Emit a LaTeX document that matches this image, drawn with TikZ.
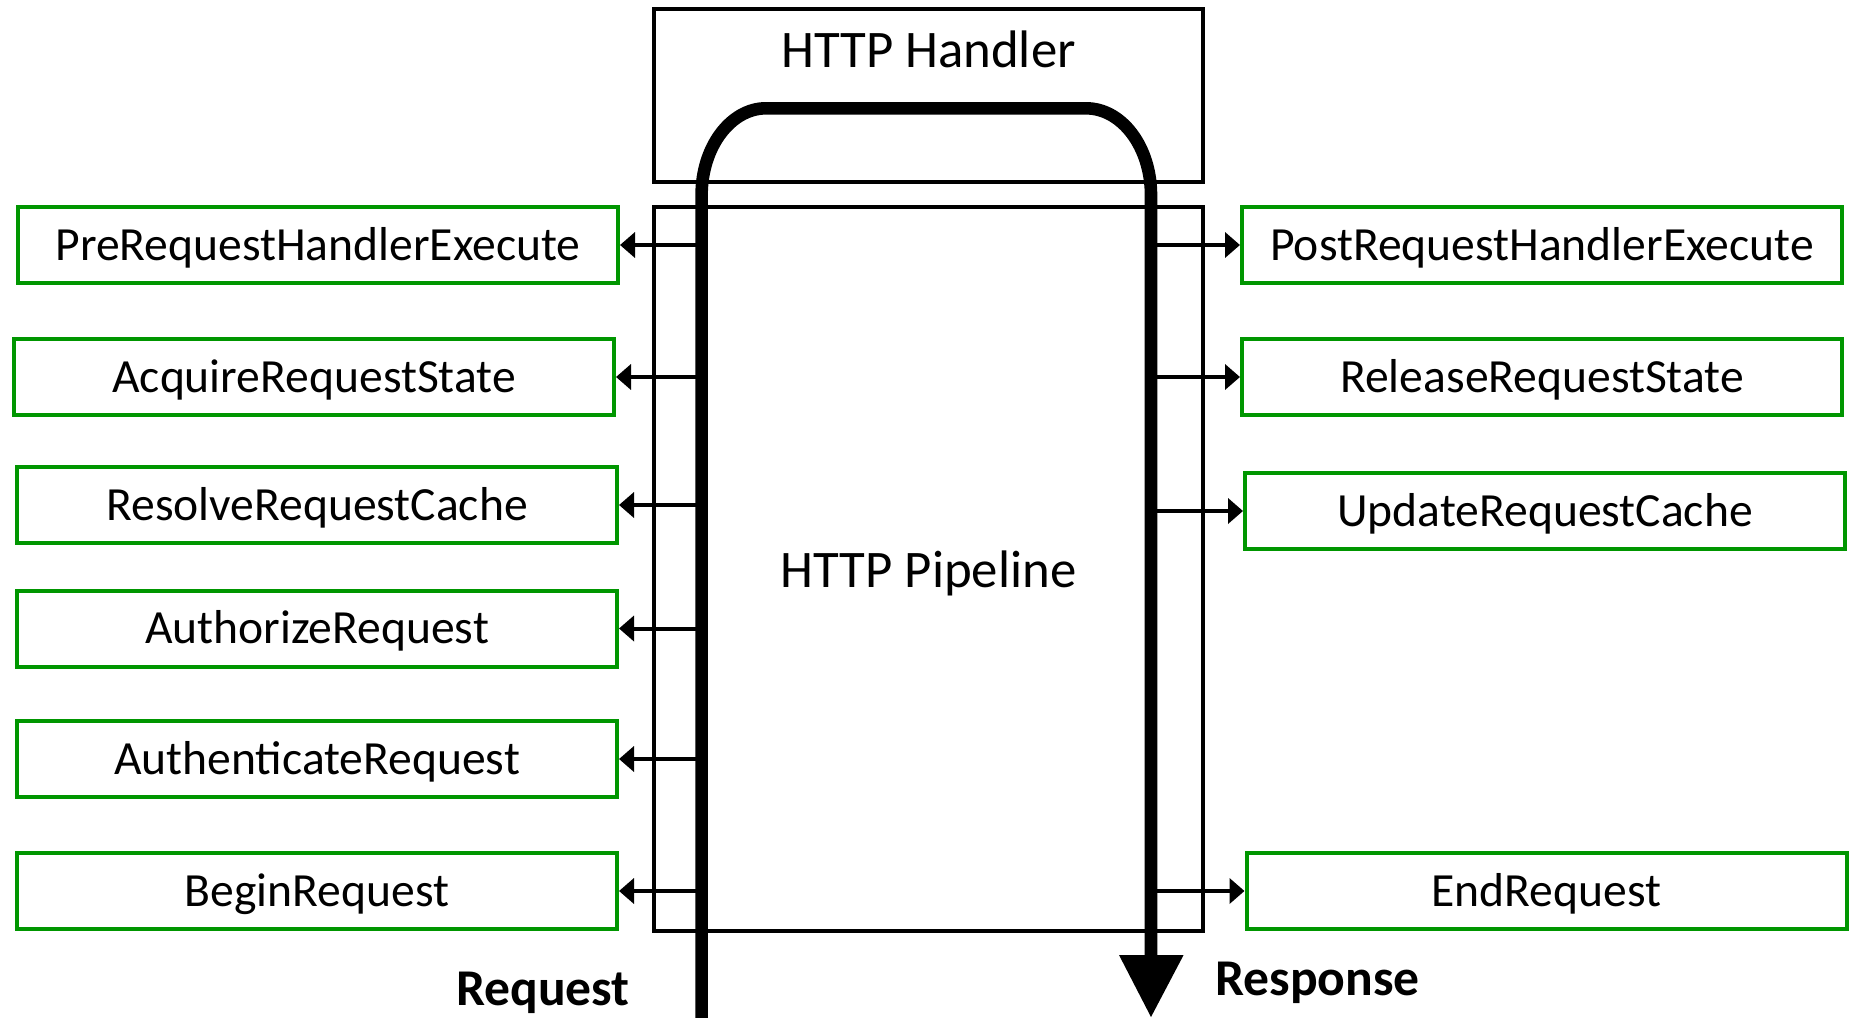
\documentclass[tikz,border=0pt]{standalone}
\usepackage{fontspec}
\setmainfont{Carlito}
\usetikzlibrary{arrows.meta}
\definecolor{evgreen}{RGB}{0,150,0}
\begin{document}
\begin{tikzpicture}[x=0.5pt,y=-0.5pt,
  evbox/.style={draw=evgreen, line width=2pt, minimum width=300pt, minimum height=38pt,
    inner sep=0pt, text height=15.2pt, text depth=0pt, font=\fontsize{23.8}{28}\selectfont},
  frame/.style={draw=black, line width=2pt, inner sep=0pt},
  bigtext/.style={anchor=base, inner sep=0pt, font=\fontsize{26.4}{30}\selectfont},
  flowtext/.style={anchor=base, inner sep=0pt, font=\fontsize{25.8}{30}\selectfont\bfseries},
  evarrow/.style={line width=2pt, -{Triangle[length=7.5pt,width=12.5pt]}},
  flow/.style={line width=6.3pt},
  ]
\useasboundingbox (0,0) rectangle (1854,1018);

% frames
\node[frame, minimum width=274.5pt, minimum height=86.5pt] (handler) at (928.5,95.5) {};
\node[frame, minimum width=274.5pt, minimum height=362pt] (pipeline) at (928.5,569) {};
\node[bigtext] (handlertxt) at (928.5,67) {HTTP Handler};
\node[bigtext] (pipetxt) at (928.5,587) {HTTP Pipeline};

% event boxes, left
\node[evbox] (pre)  at (318,245)   {PreRequestHandlerExecute};
\node[evbox] (acq)  at (314,377)   {AcquireRequestState};
\node[evbox] (res)  at (317,505)   {ResolveRequestCache};
\node[evbox] (authz) at (317,628.5) {AuthorizeRequest};
\node[evbox] (authn) at (317,759)  {AuthenticateRequest};
\node[evbox] (begin) at (317,891)  {BeginRequest};

% event boxes, right
\node[evbox] (post) at (1542,245)  {PostRequestHandlerExecute};
\node[evbox] (rel)  at (1542,377)  {ReleaseRequestState};
\node[evbox] (upd)  at (1545,511)  {UpdateRequestCache};
\node[evbox] (endr) at (1546.5,891) {EndRequest};

% flow line
\coordinate (rqin) at (701.6,1018);
\coordinate (rq) at (701.6,0);
\coordinate (rs) at (1151,0);
\coordinate (rsout) at (1151,957);
\draw[flow] (rqin) -- (701.6,195) .. controls (701.6,147) and (730.7,108.3) .. (766,108.3)
  -- (1086,108.3) .. controls (1122,108.3) and (1151,147) .. (1151,195) -- (rsout);
\fill (1119,955) -- (1183.6,955) -- (1151,1017) -- cycle;

% arrows
\foreach \b in {pre,acq,res,authz,authn,begin}
  \draw[evarrow] (\b.east -| rq) -- (\b.east);
\foreach \b in {post,rel,upd,endr}
  \draw[evarrow] (\b.west -| rs) -- (\b.west);

% labels
\node[flowtext] (reqtxt) at (543,1005) {Request};
\node[flowtext] (resptxt) at (1317.5,995) {Response};
\end{tikzpicture}
\end{document}
